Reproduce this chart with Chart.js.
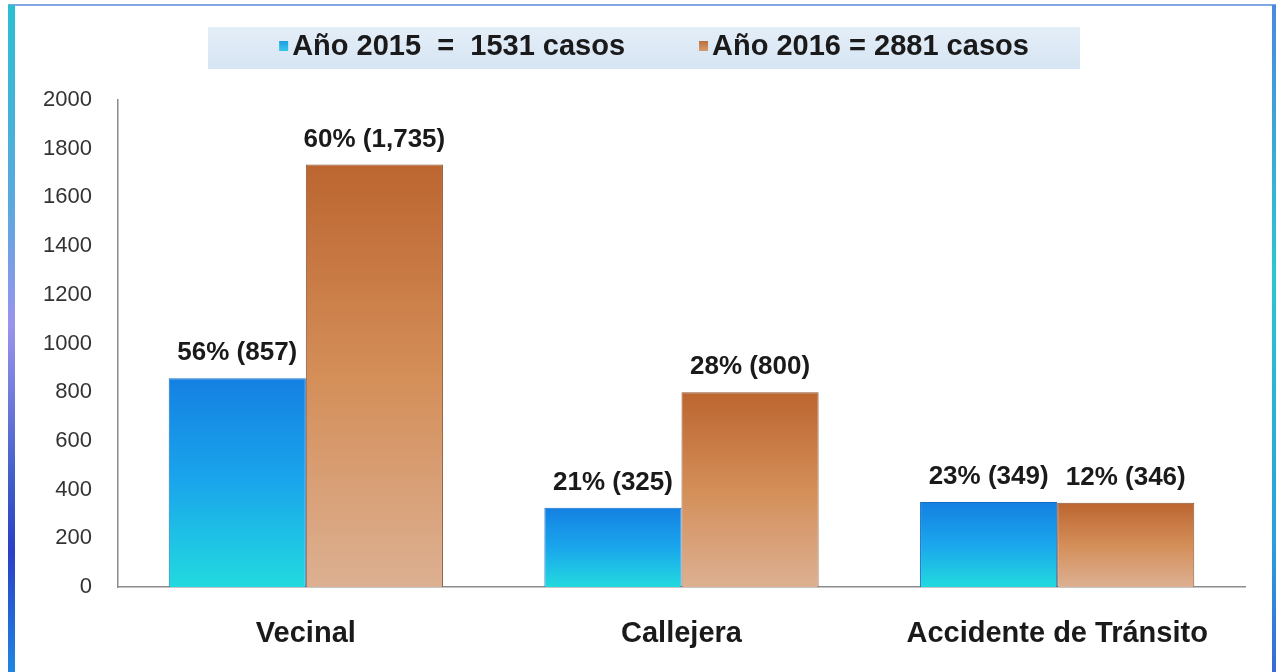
<!DOCTYPE html>
<html>
<head>
<meta charset="utf-8">
<script src="https://cdn.jsdelivr.net/npm/chart.js@4.4.1/dist/chart.umd.min.js"></script>
<style>
  html, body { margin: 0; padding: 0; background: #ffffff; }
  #wrap { position: relative; width: 1278px; height: 672px; overflow: hidden; }
  .edge { position: absolute; }
  #chartBox { position: absolute; left: 0; top: 0; width: 1278px; height: 672px; }
</style>
</head>
<body>
<div id="wrap">
  <div class="edge" style="left:8px;top:4px;width:1268px;height:2px;background:#7fa8e2;"></div>
  <div class="edge" style="left:8px;top:5px;width:7px;height:667px;background:linear-gradient(to bottom,#2bbfd2 0%,#5aa8e0 30%,#9a94ec 48%,#3e5cc8 72%,#2a3fc6 82%,#1f86e2 100%);"></div>
  <div class="edge" style="left:1272px;top:5px;width:4px;height:667px;background:linear-gradient(to bottom,#4a8ae0 0%,#2cc6d0 40%,#2aa0dc 80%,#3a6ad8 100%);"></div>
  <div id="chartBox"><canvas id="myChart"></canvas></div>
</div>
<script>
// data
const categories = ['Vecinal', 'Callejera', 'Accidente de Tr\u00e1nsito'];
const casos2015 = [857, 325, 349];
const casos2016 = [1735, 800, 346];
const pct2015 = ['56%', '21%', '23%'];
const pct2016 = ['60%', '28%', '12%'];
const legendLabels = ['A\u00f1o 2015  =  1531 casos', 'A\u00f1o 2016 = 2881 casos'];
const yTicks = [0, 200, 400, 600, 800, 1000, 1200, 1400, 1600, 1800, 2000];

const FONT = '"Liberation Sans", Arial, sans-serif';

function barGradient(stops) {
    return (c) => {
        if (c.type !== 'data') return stops[0];
        const chart = c.chart;
        const area = chart.chartArea;
        if (!area) return stops[0];
        const top = chart.scales.y.getPixelForValue(c.raw);
        const g = chart.ctx.createLinearGradient(0, top, 0, area.bottom);
        g.addColorStop(0, stops[0]);
        g.addColorStop(0.5, stops[1]);
        g.addColorStop(1, stops[2]);
        return g;
    };
}

// legend box + legend items
const legendPlugin = {
    id: 'legendBox',
    beforeDraw(chart) {
        const ctx = chart.ctx;
        ctx.save();
        const g = ctx.createLinearGradient(0, 27, 0, 69);
        g.addColorStop(0, '#e4eef8');
        g.addColorStop(1, '#d6e5f3');
        ctx.fillStyle = g;
        ctx.fillRect(208, 27, 872, 42);

        ctx.font = 'bold 29px ' + FONT;
        ctx.textBaseline = 'middle';
        ctx.textAlign = 'left';
        const marks = [['#1e9ee2', '#36c8e8'], ['#b8703e', '#d89a6a']];
        const w1 = ctx.measureText(chart.data.datasets[0].label).width;
        const w2 = ctx.measureText(chart.data.datasets[1].label).width;
        const gap = 74;
        const total = 13 + w1 + gap + 13 + w2;
        let x = 654 - total / 2;
        chart.data.datasets.forEach((ds, i) => {
            const mg = ctx.createLinearGradient(0, 41, 0, 51);
            mg.addColorStop(0, marks[i][0]);
            mg.addColorStop(1, marks[i][1]);
            ctx.fillStyle = mg;
            ctx.fillRect(x, 41, 9, 10);
            ctx.fillStyle = '#1a1a1a';
            ctx.fillText(ds.label, x + 13, 47);
            x += 13 + (i === 0 ? w1 : w2) + gap;
        });
        ctx.restore();
    }
};

// value labels above the bars
const valueLabels = {
    id: 'valueLabels',
    afterDatasetsDraw(chart) {
        const ctx = chart.ctx;
        ctx.save();
        ctx.font = 'bold 26px ' + FONT;
        ctx.fillStyle = '#1a1a1a';
        ctx.textAlign = 'center';
        ctx.textBaseline = 'middle';
        const pcts = [pct2015, pct2016];
        chart.data.datasets.forEach((ds, di) => {
            chart.getDatasetMeta(di).data.forEach((bar, i) => {
                const txt = pcts[di][i] + ' (' + ds.data[i].toLocaleString('en-US') + ')';
                ctx.fillText(txt, bar.x, bar.y - 25);
            });
        });
        ctx.restore();
    }
};

const ctx = document.getElementById('myChart').getContext('2d');
const myChart = new Chart(ctx, {
    type: 'bar',
    data: {
        labels: categories,
        datasets: [
            {
                label: legendLabels[0],
                data: casos2015,
                backgroundColor: barGradient(['#1480e2', '#1aa6ec', '#22dade']),
                borderColor: '#1670c8',
                borderWidth: 1
            },
            {
                label: legendLabels[1],
                data: casos2016,
                backgroundColor: barGradient(['#bc6530', '#d48e58', '#dcb092']),
                borderColor: '#8a5634',
                borderWidth: 1
            }
        ]
    },
    options: {
        responsive: true,
        maintainAspectRatio: false,
        animation: false,
        layout: {
            padding: { left: 0, right: 33, top: 100, bottom: 0 }
        },
        categoryPercentage: 0.73,
        barPercentage: 1.0,
        plugins: {
            legend: { display: false },
            tooltip: { enabled: false }
        },
        scales: {
            x: {
                grid: { display: false, drawTicks: false },
                border: { display: true, color: '#8c8c8c', width: 1.5 },
                ticks: {
                    color: '#1a1a1a',
                    padding: 30,
                    font: { family: FONT, size: 29, weight: 'bold' }
                },
                afterFit: (scale) => { scale.height = 85; }
            },
            y: {
                min: 0,
                max: 2000,
                grid: { display: false, drawTicks: false },
                border: { display: true, color: '#8c8c8c', width: 1.5 },
                afterBuildTicks: (scale) => { scale.ticks = yTicks.map(v => ({ value: v })); },
                ticks: {
                    color: '#333333',
                    padding: 26,
                    font: { family: FONT, size: 22 },
                    callback: (v) => String(v)
                },
                afterFit: (scale) => { scale.width = 118; }
            }
        }
    },
    plugins: [legendPlugin, valueLabels]
});
</script>
</body>
</html>
